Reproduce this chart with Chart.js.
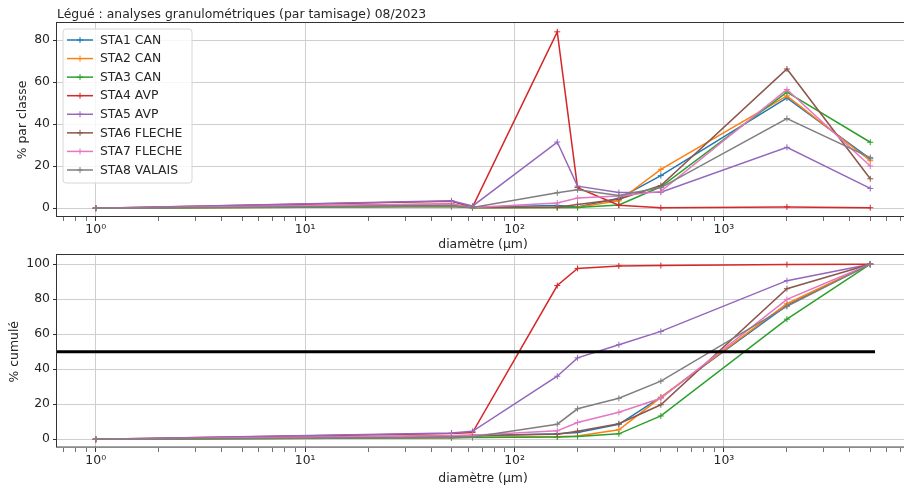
<!DOCTYPE html>
<html>
<head>
<meta charset="utf-8">
<script src="https://cdn.jsdelivr.net/npm/chart.js@4/dist/chart.umd.min.js"></script>
<style>
  html, body { margin: 0; padding: 0; background: #fff; overflow: hidden; width: 904px; height: 491px; }
  #wrap { position: relative; width: 904px; height: 491px; overflow: hidden; background: #fff; }
  canvas { position: absolute; left: 0; }
  #chartClasse { top: 0; }
  #chartCumul { top: 245px; }
</style>
</head>
<body>
<div id="wrap">
  <canvas id="chartClasse" width="920" height="260"></canvas>
  <canvas id="chartCumul" width="920" height="246"></canvas>
</div>
<script>
// Sieve apertures (µm)
const diametres = [1, 50, 63, 160, 200, 315, 500, 2000, 5000];

const stations = ['STA1 CAN', 'STA2 CAN', 'STA3 CAN', 'STA4 AVP', 'STA5 AVP', 'STA6 FLECHE', 'STA7 FLECHE', 'STA8 VALAIS'];

// % par classe
const sta1Classe = [0, 1.5, 0.4, 1.3, 0.6, 4.7, 15.5, 52.5, 23.5];
const sta2Classe = [0, 0.8, 0.3, 0.3, 0.5, 3.5, 18.5, 53.5, 22.6];
const sta3Classe = [0, 0.8, 0.2, 0.3, 0.3, 1.5, 10.2, 55.3, 31.4];
const sta4Classe = [0, 3.3, 0.5, 84.0, 9.8, 1.4, 0.2, 0.6, 0.2];
const sta5Classe = [0, 3.5, 1.0, 31.5, 10.5, 7.5, 7.6, 29.0, 9.4];
const sta6Classe = [0, 2.0, 0.3, 0.5, 1.8, 4.3, 10.8, 66.3, 14.0];
const sta7Classe = [0, 2.0, 0.3, 2.5, 4.8, 5.8, 8.0, 56.5, 20.1];
const sta8Classe = [0, 1.0, 0.3, 7.3, 8.8, 6.0, 9.8, 42.7, 24.1];

// % cumulé
const sta1Cumul = [0, 1.5, 1.9, 3.2, 3.8, 8.5, 24.0, 76.5, 100];
const sta2Cumul = [0, 0.8, 1.1, 1.4, 1.9, 5.4, 23.9, 77.4, 100];
const sta3Cumul = [0, 0.8, 1.0, 1.3, 1.6, 3.1, 13.3, 68.6, 100];
const sta4Cumul = [0, 3.3, 3.8, 87.8, 97.6, 99.0, 99.2, 99.8, 100];
const sta5Cumul = [0, 3.5, 4.5, 36.0, 46.5, 54.0, 61.6, 90.6, 100];
const sta6Cumul = [0, 2.0, 2.3, 2.8, 4.6, 8.9, 19.7, 86.0, 100];
const sta7Cumul = [0, 2.0, 2.3, 4.8, 9.6, 15.4, 23.4, 79.9, 100];
const sta8Cumul = [0, 1.0, 1.3, 8.6, 17.4, 23.4, 33.2, 75.9, 100];

// D50 reference line
const d50X = [0.5, 5270];
const d50Y = [50, 50];

// Axis ticks
const xMajorTicks = [1, 10, 100, 1000];
const xTickLabels = ['10\u2070', '10\u00B9', '10\u00B2', '10\u00B3'];
const yTicksClasse = [0, 20, 40, 60, 80];
const yTicksCumul = [0, 20, 40, 60, 80, 100];

const titre = 'Légué : analyses granulométriques (par tamisage) 08/2023';

const couleurs = ['#1f77b4', '#ff7f0e', '#2ca02c', '#d62728', '#9467bd', '#8c564b', '#e377c2', '#7f7f7f'];

const classes = [sta1Classe, sta2Classe, sta3Classe, sta4Classe, sta5Classe, sta6Classe, sta7Classe, sta8Classe];
const cumuls = [sta1Cumul, sta2Cumul, sta3Cumul, sta4Cumul, sta5Cumul, sta6Cumul, sta7Cumul, sta8Cumul];

// log axis limits with 5 % margins on log10 span
const xMin = Math.pow(10, -0.185);
const xMax = Math.pow(10, 3.884);

// minor tick positions 2..9 x 10^n inside the range
const xAllTicks = [];
for (let e = -1; e <= 3; e++) {
  for (let m = 1; m <= 9; m++) {
    const v = m * Math.pow(10, e);
    if (v >= xMin && v <= xMax) xAllTicks.push(+v.toPrecision(6));
  }
}
const isMajor = v => xMajorTicks.some(t => Math.abs(t - v) < 1e-9 * t);

const FONT = { family: "'DejaVu Sans', sans-serif", size: 12.4 };
const TXT = '#262626';
const GRID = '#cfcfcf';
const CANVAS_W = 920;
const AREA_LEFT = 57;
const AREA_RIGHT = 909;

function stationDatasets(series) {
  return series.map((vals, i) => ({
    label: stations[i],
    data: diametres.map((d, k) => ({ x: d, y: vals[k] })),
    borderColor: couleurs[i],
    backgroundColor: couleurs[i],
    pointBackgroundColor: couleurs[i],
    pointBorderColor: couleurs[i],
    borderWidth: 1.5,
    pointStyle: 'cross',
    pointRadius: 3,
    pointBorderWidth: 1,
    pointHoverRadius: 3,
    tension: 0,
    fill: false,
    order: 20 - i
  }));
}

// axes frame (all four spines)
const framePlugin = {
  id: 'frame',
  afterDatasetsDraw(chart) {
    const { ctx, chartArea: a } = chart;
    ctx.save();
    ctx.strokeStyle = '#333';
    ctx.lineWidth = 1;
    ctx.strokeRect(Math.round(a.left) - 0.5, Math.round(a.top) - 0.5, a.right - a.left, a.bottom - a.top);
    ctx.restore();
  }
};

// left-aligned axes title
const titlePlugin = {
  id: 'axesTitle',
  afterDraw(chart, args, opts) {
    if (!opts.text) return;
    const { ctx, chartArea: a } = chart;
    ctx.save();
    ctx.font = `${FONT.size}px ${FONT.family}`;
    ctx.fillStyle = TXT;
    ctx.textAlign = 'left';
    ctx.textBaseline = 'alphabetic';
    ctx.fillText(opts.text, a.left, a.top - 5);
    ctx.restore();
  }
};

// legend box in the upper-left corner of the axes
const legendPlugin = {
  id: 'stationLegend',
  afterDraw(chart, args, opts) {
    if (!opts.show) return;
    const { ctx, chartArea: a } = chart;
    const sets = chart.data.datasets.filter(d => stations.includes(d.label));
    const x0 = a.left + 6, y0 = a.top + 6, w = 129, h = 154, row = 18.57, r = 3;
    ctx.save();
    ctx.beginPath();
    ctx.moveTo(x0 + r, y0);
    ctx.lineTo(x0 + w - r, y0); ctx.quadraticCurveTo(x0 + w, y0, x0 + w, y0 + r);
    ctx.lineTo(x0 + w, y0 + h - r); ctx.quadraticCurveTo(x0 + w, y0 + h, x0 + w - r, y0 + h);
    ctx.lineTo(x0 + r, y0 + h); ctx.quadraticCurveTo(x0, y0 + h, x0, y0 + h - r);
    ctx.lineTo(x0, y0 + r); ctx.quadraticCurveTo(x0, y0, x0 + r, y0);
    ctx.closePath();
    ctx.fillStyle = 'rgba(255,255,255,0.8)';
    ctx.fill();
    ctx.strokeStyle = '#d6d6d6';
    ctx.lineWidth = 1;
    ctx.stroke();
    ctx.font = `${FONT.size}px ${FONT.family}`;
    ctx.textAlign = 'left';
    ctx.textBaseline = 'middle';
    sets.forEach((ds, i) => {
      const yc = y0 + 11 + i * row;
      ctx.strokeStyle = ds.borderColor;
      ctx.lineWidth = 1.5;
      ctx.beginPath();
      ctx.moveTo(x0 + 4, yc); ctx.lineTo(x0 + 30, yc);
      ctx.stroke();
      ctx.lineWidth = 1;
      ctx.beginPath();
      ctx.moveTo(x0 + 17, yc - 3); ctx.lineTo(x0 + 17, yc + 3);
      ctx.moveTo(x0 + 14, yc); ctx.lineTo(x0 + 20, yc);
      ctx.stroke();
      ctx.fillStyle = TXT;
      ctx.fillText(ds.label, x0 + 37, yc + 0.5);
    });
    ctx.restore();
  }
};

function buildOptions(cfg) {
  return {
    responsive: false,
    animation: false,
    events: [],
    layout: { padding: { left: 0, right: CANVAS_W - AREA_RIGHT, top: cfg.padTop, bottom: 0 } },
    plugins: {
      legend: { display: false },
      tooltip: { enabled: false },
      axesTitle: { text: cfg.title || '' },
      stationLegend: { show: !!cfg.legend }
    },
    scales: {
      x: {
        type: 'logarithmic',
        min: xMin,
        max: xMax,
        bounds: 'data',
        afterBuildTicks: s => { s.ticks = xAllTicks.map(v => ({ value: v, major: false })); },
        afterFit: s => { s.height = cfg.xHeight; },
        ticks: {
          autoSkip: false, maxRotation: 0, minRotation: 0, padding: cfg.xTickPad,
          font: FONT, color: TXT,
          callback: (value) => {
            const i = xMajorTicks.findIndex(t => Math.abs(t - value) < 1e-9 * t);
            return i >= 0 ? xTickLabels[i] : '';
          }
        },
        grid: {
          color: c => (c.tick && isMajor(c.tick.value)) ? GRID : 'rgba(0,0,0,0)',
          lineWidth: 1,
          drawTicks: true,
          tickLength: 4,
          tickColor: '#333',
          tickWidth: c => (c.tick && isMajor(c.tick.value)) ? 1 : 0.7
        },
        border: { display: false },
        title: { display: true, text: 'diamètre (µm)', font: FONT, color: TXT, padding: { top: 0, bottom: cfg.xTitlePad } }
      },
      y: {
        type: 'linear',
        min: cfg.yMin,
        max: cfg.yMax,
        bounds: 'data',
        afterBuildTicks: s => { s.ticks = cfg.yTicks.map(v => ({ value: v })); },
        afterFit: s => { s.width = AREA_LEFT; },
        ticks: { padding: 3, font: FONT, color: TXT },
        grid: { color: GRID, lineWidth: 1, drawTicks: true, tickLength: 4, tickColor: '#333', tickWidth: 1 },
        border: { display: false },
        title: { display: true, text: cfg.yTitle, font: FONT, color: TXT, padding: { top: cfg.yTitlePad, bottom: 0 } }
      }
    }
  };
}

new Chart(document.getElementById('chartClasse'), {
  type: 'line',
  data: { datasets: stationDatasets(classes) },
  options: buildOptions({
    padTop: 23, xHeight: 260 - 217, xTickPad: 1.5, xTitlePad: 7.5,
    yMin: -4.2, yMax: 88.2, yTicks: yTicksClasse, yTitle: '% par classe', yTitlePad: 15,
    title: titre, legend: true
  }),
  plugins: [framePlugin, titlePlugin, legendPlugin]
});

const cumulDatasets = stationDatasets(cumuls);
cumulDatasets.push({
  label: 'D50',
  data: d50X.map((d, k) => ({ x: d, y: d50Y[k] })),
  borderColor: '#000',
  backgroundColor: '#000',
  borderWidth: 3,
  pointRadius: 0,
  tension: 0,
  fill: false,
  clip: 0,
  order: 0
});

new Chart(document.getElementById('chartCumul'), {
  type: 'line',
  data: { datasets: cumulDatasets },
  options: buildOptions({
    padTop: 10, xHeight: 246 - 203, xTickPad: 1.5, xTitlePad: 4.5,
    yMin: -5, yMax: 105, yTicks: yTicksCumul, yTitle: '% cumulé', yTitlePad: 7.5
  }),
  plugins: [framePlugin, titlePlugin]
});
</script>
</body>
</html>
